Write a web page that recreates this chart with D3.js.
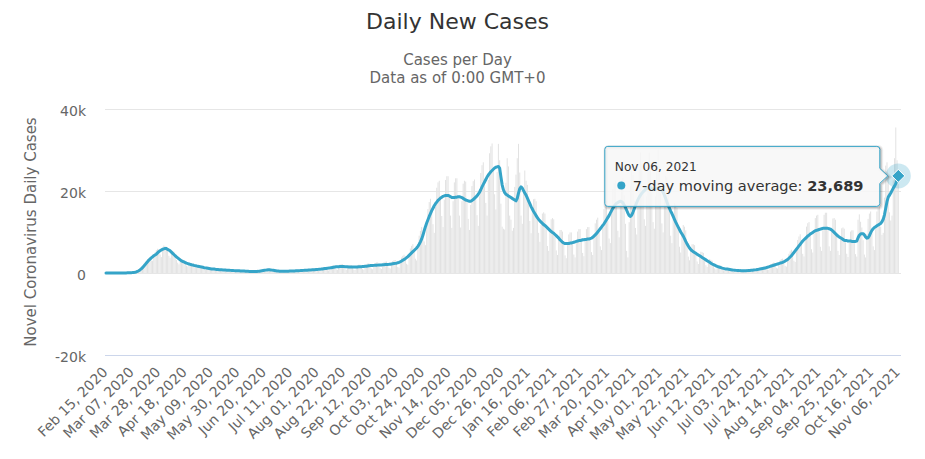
<!DOCTYPE html>
<html><head><meta charset="utf-8">
<script src="https://cdn.jsdelivr.net/npm/d3@7"></script>
<style>
html,body{margin:0;padding:0;background:#fff;}
svg{display:block;font-family:"DejaVu Sans",sans-serif;}
</style></head><body>
<svg id="chart" width="925" height="459"></svg>
<script>
// ---------------- DATA ----------------
const chartTitle = "Daily New Cases";
const subtitleLines = ["Cases per Day", "Data as of 0:00 GMT+0"];
const yAxisTitle = "Novel Coronavirus Daily Cases";
const seriesName = "7-day moving average";
const startDate = "2020-02-15";
const endDate = "2021-11-06";
const tickLabels = ["Feb 15, 2020","Mar 07, 2020","Mar 28, 2020","Apr 18, 2020","May 09, 2020","May 30, 2020","Jun 20, 2020","Jul 11, 2020","Aug 01, 2020","Aug 22, 2020","Sep 12, 2020","Oct 03, 2020","Oct 24, 2020","Nov 14, 2020","Dec 05, 2020","Dec 26, 2020","Jan 16, 2021","Feb 06, 2021","Feb 27, 2021","Mar 20, 2021","Apr 10, 2021","May 01, 2021","May 22, 2021","Jun 12, 2021","Jul 03, 2021","Jul 24, 2021","Aug 14, 2021","Sep 04, 2021","Sep 25, 2021","Oct 16, 2021","Nov 06, 2021"];
const yTicks = [-20000, 0, 20000, 40000];
// daily new cases, thousands (one row = one week, starting Saturday)
const dailyCasesK = [
0,0,0,0,0,0,0,
0,0,0,0,0.03,0.04,0.03,
0.02,0.01,0.03,0.05,0.07,0.1,0.12,
0.12,0.13,0.17,0.3,0.45,0.7,0.95,
1.1,1.0,1.3,2.2,2.9,3.4,3.6,
3.8,3.0,3.0,4.4,5.0,5.6,5.9,
5.8,4.5,3.9,5.8,6.7,6.5,6.4,
5.9,4.2,3.7,4.8,5.4,5.2,4.0,
3.2,2.5,2.1,2.8,3.4,3.3,3.0,
2.5,1.8,1.6,2.2,2.3,2.4,2.2,
1.8,1.4,1.2,1.7,1.8,1.8,1.6,
1.4,1.0,0.85,1.2,1.3,1.3,1.2,
1.0,0.75,0.65,0.9,1.0,1.0,0.95,
0.76,0.47,0.38,0.7,0.94,0.95,0.92,
0.63,0.38,0.31,0.57,0.75,0.76,0.74,
0.5,0.31,0.25,0.46,0.61,0.62,0.59,
0.4,0.24,0.19,0.35,0.47,0.47,0.49,
0.35,0.23,0.2,0.43,0.65,0.74,0.81,
0.62,0.42,0.38,0.76,1.0,1.0,0.95,
0.62,0.36,0.28,0.48,0.62,0.61,0.59,
0.41,0.26,0.22,0.42,0.59,0.61,0.62,
0.44,0.28,0.24,0.48,0.68,0.73,0.76,
0.55,0.36,0.31,0.61,0.86,0.92,0.95,
0.68,0.44,0.38,0.74,1.04,1.11,1.15,
0.84,0.54,0.47,0.91,1.3,1.4,1.46,
1.06,0.7,0.6,1.19,1.69,1.82,1.89,
1.38,0.9,0.76,1.47,2.05,2.16,2.16,
1.5,0.93,0.76,1.43,1.92,1.97,1.96,
1.37,0.86,0.73,1.39,1.92,2.03,2.05,
1.47,0.95,0.8,1.55,2.16,2.3,2.36,
1.71,1.09,0.92,1.77,2.44,2.57,2.59,
1.84,1.18,0.99,1.9,2.63,2.77,2.81,
2.0,1.27,1.08,2.09,2.93,3.11,3.17,
2.28,1.5,1.3,2.61,3.77,4.19,4.46,
3.33,2.25,2.0,4.09,5.98,6.62,7.02,
5.23,3.48,3.05,6.18,9.1,10.26,11.2,
9.2,7.7,6.8,11.6,15.6,17.3,18.1,
15.2,11.9,9.8,16.1,20.8,22.1,22.5,
18.3,13.9,11.2,17.9,22.7,23.6,23.6,
18.8,14.0,11.0,17.5,22.1,23.1,23.1,
18.6,14.0,11.1,17.5,21.8,22.5,22.3,
17.7,13.2,10.5,16.6,21.2,22.4,22.8,
18.5,14.1,11.5,18.7,24.4,26.3,27.0,
22.2,17.1,14.0,22.7,29.2,30.9,31.6,
25.3,19.2,15.5,24.6,31.5,27.5,16.9,
11.3,10.8,10.6,22.0,28.0,26.0,14.0,
13.0,10.3,11.0,21.0,24.0,28.0,31.5,
24.5,14.0,12.0,19.5,25.0,22.5,21.5,
17.6,12.7,9.7,14.8,18.0,18.1,17.5,
13.5,9.8,7.6,11.8,14.5,14.8,14.5,
10.7,6.6,5.4,9.9,13.1,13.4,13.1,
8.9,5.5,4.4,8.1,10.5,10.5,10.1,
6.9,4.3,3.6,6.8,9.4,9.9,9.9,
7.0,4.5,3.8,7.3,10.1,10.7,10.7,
7.6,4.9,4.1,7.8,10.7,11.2,11.2,
8.0,5.1,4.4,8.6,12.1,13.0,13.5,
9.9,6.5,5.6,11.0,15.6,16.9,17.6,
12.8,8.4,7.3,14.4,20.5,21.9,22.5,
16.2,10.3,8.7,16.6,22.6,23.1,19.0,
12.0,5.4,3.8,12.4,21.2,25.2,23.9,
17.6,11.0,9.4,17.3,25.4,29.4,26.7,
20.4,13.1,11.5,18.7,26.1,29.4,26.7,
19.7,12.4,10.8,18.7,26.8,30.1,26.0,
19.4,12.1,9.9,18.1,23.7,23.4,22.3,
15.0,9.1,7.3,13.1,17.0,16.7,15.9,
10.6,6.4,5.0,9.0,11.7,11.3,10.4,
6.7,4.0,3.1,5.4,7.0,7.0,6.8,
4.6,2.8,2.2,4.0,5.2,5.1,4.9,
3.2,1.9,1.5,2.7,3.4,3.2,3.0,
1.95,1.14,0.88,1.52,1.95,1.89,1.76,
1.14,0.67,0.53,0.95,1.24,1.22,1.15,
0.76,0.45,0.35,0.64,0.83,0.84,0.81,
0.55,0.34,0.28,0.53,0.73,0.77,0.78,
0.57,0.37,0.33,0.65,0.94,1.03,1.08,
0.81,0.54,0.48,0.97,1.4,1.54,1.62,
1.24,0.84,0.75,1.52,2.21,2.43,2.57,
1.9,1.26,1.1,2.19,3.12,3.38,3.51,
2.61,1.74,1.55,3.14,4.68,5.27,5.67,
4.37,3.0,2.7,5.51,8.06,8.91,9.45,
7.03,4.68,4.05,7.98,11.31,12.15,12.42,
9.0,5.8,5.0,9.6,13.4,14.0,14.2,
10.1,6.4,5.4,10.4,14.2,14.7,14.7,
10.4,6.5,5.4,10.0,13.3,13.4,13.0,
8.8,5.4,4.4,8.2,10.9,11.1,10.8,
7.5,4.7,3.9,7.4,10.1,10.4,10.4,
7.3,4.6,4.0,13.0,14.3,12.5,11.1,
8.0,4.5,3.8,9.5,13.2,14.5,15.0,
9.9,6.5,5.6,10.7,15.0,15.8,16.1,
11.3,9.3,9.8,18.4,26.2,27.0,23.8,
14.8,12.8,14.0,22.6,28.0,35.5,27.5,
21.7
];
// 7-day moving average, thousands
const movingAvgK = [
0,0,0,0,0,0,0,
0,0,0,0,0.01,0.02,0.02,
0.02,0.02,0.03,0.04,0.05,0.07,0.08,
0.1,0.13,0.17,0.25,0.38,0.55,0.75,
1.0,1.3,1.65,2.0,2.4,2.75,3.1,
3.4,3.7,3.95,4.2,4.4,4.6,4.9,
5.2,5.4,5.6,5.8,5.9,6.0,5.95,
5.75,5.6,5.4,5.1,4.8,4.5,4.2,
3.95,3.7,3.45,3.2,2.95,2.8,2.7,
2.55,2.4,2.3,2.2,2.1,2.0,1.95,
1.85,1.8,1.7,1.65,1.6,1.5,1.45,
1.4,1.3,1.25,1.2,1.15,1.1,1.05,
1.0,0.98,0.95,0.9,0.87,0.85,0.82,
0.8,0.78,0.76,0.74,0.72,0.7,0.68,
0.66,0.64,0.62,0.6,0.58,0.56,0.55,
0.53,0.52,0.5,0.48,0.47,0.46,0.44,
0.42,0.4,0.38,0.37,0.36,0.35,0.36,
0.37,0.38,0.4,0.45,0.5,0.55,0.6,
0.65,0.7,0.75,0.8,0.78,0.75,0.7,
0.65,0.6,0.55,0.5,0.48,0.45,0.44,
0.43,0.43,0.44,0.44,0.45,0.45,0.46,
0.46,0.47,0.48,0.5,0.52,0.54,0.56,
0.58,0.6,0.62,0.64,0.66,0.68,0.7,
0.72,0.74,0.76,0.78,0.8,0.82,0.85,
0.88,0.9,0.93,0.96,1.0,1.04,1.08,
1.12,1.16,1.2,1.25,1.3,1.35,1.4,
1.45,1.5,1.52,1.55,1.58,1.6,1.6,
1.58,1.55,1.52,1.5,1.48,1.46,1.45,
1.44,1.44,1.45,1.46,1.48,1.5,1.52,
1.55,1.58,1.6,1.63,1.66,1.7,1.75,
1.8,1.82,1.84,1.86,1.88,1.9,1.92,
1.94,1.96,1.98,2.0,2.02,2.05,2.08,
2.1,2.12,2.15,2.2,2.25,2.3,2.35,
2.4,2.5,2.6,2.75,2.9,3.1,3.3,
3.5,3.75,4.0,4.3,4.6,4.9,5.2,
5.5,5.8,6.1,6.5,7.0,7.6,8.3,
9.2,10.3,11.3,12.2,13.0,13.8,14.5,
15.2,15.8,16.4,16.9,17.3,17.7,18.0,
18.3,18.5,18.7,18.8,18.9,18.9,18.9,
18.8,18.6,18.4,18.4,18.4,18.5,18.5,
18.6,18.6,18.5,18.4,18.2,18.0,17.8,
17.7,17.6,17.5,17.5,17.7,17.9,18.2,
18.5,18.8,19.2,19.7,20.3,21.0,21.6,
22.2,22.8,23.4,23.9,24.3,24.7,25.0,
25.3,25.6,25.8,25.9,26.0,25.6,23.5,
21.5,20.3,19.6,19.2,19.0,18.8,18.6,
18.4,18.2,18.0,17.8,17.6,18.2,19.5,
20.6,21.0,20.7,20.1,19.5,19.0,18.3,
17.6,16.9,16.2,15.6,15.0,14.5,14.0,
13.5,13.1,12.7,12.4,12.1,11.8,11.6,
11.3,11.0,10.7,10.4,10.1,9.9,9.7,
9.4,9.1,8.8,8.5,8.1,7.8,7.5,
7.3,7.2,7.2,7.2,7.2,7.3,7.3,
7.4,7.5,7.6,7.7,7.8,7.9,7.9,
8.0,8.1,8.1,8.2,8.2,8.3,8.3,
8.4,8.5,8.7,9.0,9.3,9.6,10.0,
10.4,10.8,11.2,11.6,12.0,12.5,13.0,
13.5,14.0,14.6,15.2,15.8,16.2,16.7,
17.0,17.2,17.4,17.5,17.4,17.1,16.6,
16.0,15.3,14.6,14.0,13.8,14.1,14.8,
15.6,16.4,17.2,17.9,18.5,19.0,19.4,
19.8,20.1,20.4,20.6,20.7,20.8,20.8,
20.7,20.6,20.5,20.5,20.6,20.7,20.6,
20.4,20.1,19.7,19.0,18.2,17.3,16.5,
15.8,15.1,14.5,13.8,13.1,12.4,11.8,
11.2,10.6,10.0,9.5,9.0,8.4,7.7,
7.1,6.6,6.1,5.7,5.4,5.2,5.0,
4.8,4.6,4.4,4.2,4.0,3.8,3.6,
3.4,3.2,3.0,2.8,2.6,2.4,2.2,
2.05,1.9,1.75,1.6,1.5,1.4,1.3,
1.2,1.12,1.05,1.0,0.95,0.9,0.85,
0.8,0.75,0.7,0.67,0.64,0.62,0.6,
0.58,0.57,0.56,0.56,0.56,0.57,0.58,
0.6,0.62,0.65,0.68,0.72,0.76,0.8,
0.85,0.9,0.96,1.02,1.08,1.14,1.2,
1.3,1.4,1.5,1.6,1.7,1.8,1.9,
2.0,2.1,2.2,2.3,2.4,2.5,2.6,
2.75,2.9,3.1,3.3,3.6,3.9,4.2,
4.6,5.0,5.4,5.8,6.2,6.6,7.0,
7.4,7.8,8.1,8.4,8.7,9.0,9.2,
9.5,9.7,9.9,10.1,10.3,10.4,10.5,
10.6,10.7,10.8,10.9,10.9,10.9,10.9,
10.9,10.8,10.7,10.5,10.2,9.9,9.6,
9.3,9.0,8.8,8.6,8.4,8.2,8.0,
7.9,7.9,7.8,7.8,7.8,7.7,7.7,
7.7,7.7,7.8,8.6,9.2,9.5,9.6,
9.6,9.3,8.8,8.5,8.6,9.1,9.8,
10.4,10.8,11.1,11.3,11.5,11.7,11.9,
12.1,12.5,13.1,14.2,15.8,17.4,18.5,
19.0,19.5,20.1,20.7,21.2,21.8,22.7,
23.689
];
const UNIT = 1000;
const tooltipIndex = movingAvgK.length - 1;

// ---------------- STYLE ----------------
const lineColor = "#35a4c8";
const barColor = "#e2e2e2";
const gridColor = "#e6e6e6";
const axisLineColor = "#ccd6eb";
const labelColor = "#666666";

// ---------------- CHART ----------------
const svg = d3.select("#chart");
const W = 925, H = 459;
const plot = {left: 105, right: 901, top: 109, bottom: 355};

const parse = d3.timeParse("%Y-%m-%d");
const fmt = d3.timeFormat("%b %d, %Y");
const categories = d3.timeDay.range(parse(startDate), d3.timeDay.offset(parse(endDate), 1)).map(fmt);

const x = d3.scalePoint().domain(categories).range([106, 898.3]);
const y = d3.scaleLinear().domain([-20000, 40000]).range([plot.bottom, plot.top]);

// titles
svg.append("text").attr("x", 457.5).attr("y", 29).attr("text-anchor", "middle")
  .attr("font-size", 22).attr("fill", "#333333").text(chartTitle);
subtitleLines.forEach((t, k) => {
  svg.append("text").attr("x", 457.5).attr("y", 65 + k * 18).attr("text-anchor", "middle")
    .attr("font-size", 15).attr("fill", labelColor).text(t);
});

// grid lines
const grid = svg.append("g").attr("transform", `translate(${plot.left},0)`)
  .call(d3.axisLeft(y).tickValues(yTicks).tickSize(-(plot.right - plot.left)).tickFormat(""));
grid.select(".domain").remove();
grid.selectAll("line").attr("stroke", gridColor).attr("shape-rendering", "crispEdges");

// y labels
const yAx = svg.append("g").attr("transform", `translate(${plot.left},0)`)
  .call(d3.axisLeft(y).tickValues(yTicks).tickSize(0).tickPadding(19)
    .tickFormat(d => d === 0 ? "0" : (d < 0 ? "-" : "") + Math.abs(d / 1000) + "k"));
yAx.select(".domain").remove();
yAx.selectAll("text").attr("font-family", "DejaVu Sans").attr("font-size", 14)
  .attr("fill", labelColor).attr("dy", "0.43em");

// y title
svg.append("text").attr("transform", `translate(36,232) rotate(-90)`).attr("text-anchor", "middle")
  .attr("font-size", 15).attr("fill", labelColor).text(yAxisTitle);

// bars
svg.append("g").selectAll("rect").data(dailyCasesK).join("rect")
  .attr("x", (d, i) => x(categories[i]) - 0.5)
  .attr("width", 1)
  .attr("y", d => y(d * UNIT))
  .attr("height", d => y(0) - y(d * UNIT))
  .attr("fill", barColor);

// x axis line
svg.append("line").attr("x1", plot.left).attr("x2", plot.right)
  .attr("y1", plot.bottom + 0.5).attr("y2", plot.bottom + 0.5)
  .attr("stroke", axisLineColor).attr("stroke-width", 1);

// x labels
const xAx = svg.append("g").attr("transform", `translate(0,${plot.bottom})`)
  .call(d3.axisBottom(x).tickValues(tickLabels).tickSize(0));
xAx.select(".domain").remove();
xAx.selectAll("text").attr("font-family", "DejaVu Sans").attr("font-size", 14)
  .attr("fill", labelColor).attr("text-anchor", "end")
  .attr("x", 0).attr("y", 0).attr("dy", 0)
  .attr("transform", "translate(2,18) rotate(-45)");

// moving average line
const line = d3.line().x((d, i) => x(categories[i])).y(d => y(d * UNIT));
svg.append("path").datum(movingAvgK).attr("d", line)
  .attr("fill", "none").attr("stroke", lineColor).attr("stroke-width", 3)
  .attr("stroke-linejoin", "round").attr("stroke-linecap", "round");

// hover marker
const px = x(categories[tooltipIndex]), py = y(movingAvgK[tooltipIndex] * UNIT);
svg.append("circle").attr("cx", px).attr("cy", py).attr("r", 12.5)
  .attr("fill", lineColor).attr("opacity", 0.25);
const dsz = 6.5;
svg.append("path").attr("d", `M${px},${py - dsz}L${px + dsz},${py}L${px},${py + dsz}L${px - dsz},${py}Z`)
  .attr("fill", lineColor).attr("stroke", "#fff").attr("stroke-width", 1);

// tooltip
const bw = 275, bh = 60;
const bx = px - 19 - bw + 0.5, by = py - 30 + 0.5;
const r = 3, ah = 7.5;
const bR = bx + bw, bB = by + bh;
const callout = `M${bx + r},${by}L${bR - r},${by}Q${bR},${by} ${bR},${by + r}` +
  `L${bR},${py - ah}L${bR + 8},${py}L${bR},${py + ah}` +
  `L${bR},${bB - r}Q${bR},${bB} ${bR - r},${bB}L${bx + r},${bB}Q${bx},${bB} ${bx},${bB - r}` +
  `L${bx},${by + r}Q${bx},${by} ${bx + r},${by}Z`;
const tip = svg.append("g");
[[5, 0.05], [3, 0.1], [1, 0.15]].forEach(([w, o]) => {
  tip.append("path").attr("d", callout).attr("transform", "translate(1,1)")
    .attr("fill", "none").attr("stroke", "#000").attr("stroke-opacity", o).attr("stroke-width", w);
});
tip.append("path").attr("d", callout).attr("fill", "rgba(247,247,247,0.85)")
  .attr("stroke", lineColor).attr("stroke-width", 1);
tip.append("text").attr("x", bx + 10).attr("y", by + 25).attr("font-size", 12.2)
  .attr("fill", "#333333").text(categories[tooltipIndex]);
tip.append("circle").attr("cx", bx + 16.5).attr("cy", by + 39).attr("r", 4).attr("fill", lineColor);
const t2 = tip.append("text").attr("x", bx + 28).attr("y", by + 44.5).attr("font-size", 14.6).attr("fill", "#333333");
t2.append("tspan").text(seriesName + ": ");
t2.append("tspan").attr("font-weight", "bold").text(d3.format(",")(Math.round(movingAvgK[tooltipIndex] * UNIT)));
</script>
</body></html>
